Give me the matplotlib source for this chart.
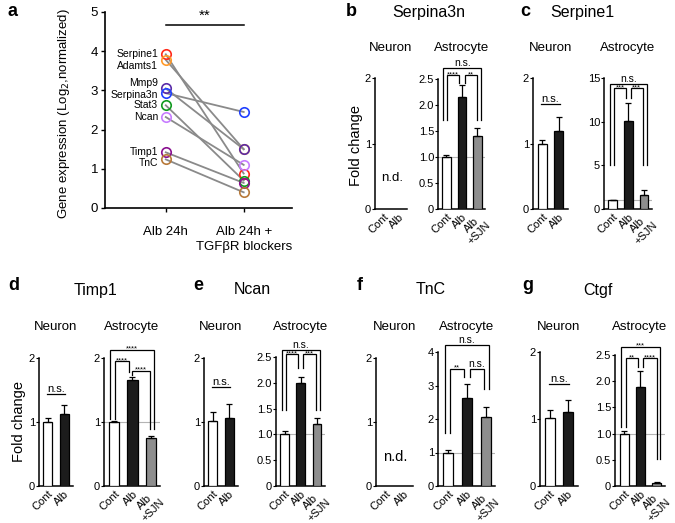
import numpy as np
import matplotlib
matplotlib.use('Agg')
import matplotlib.pyplot as plt

plt.rcParams['font.family'] = ['Liberation Sans', 'DejaVu Sans']

W, H = 675, 523

# ---- panel a: Log2 gene expression, Alb 24h vs Alb 24h + blockers
genes = ['Serpine1', 'Adamts1', 'Mmp9', 'Serpina3n', 'Stat3', 'Ncan', 'Timp1', 'TnC']
alb_24h = [3.92, 3.78, 3.05, 2.93, 2.62, 2.32, 1.42, 1.24]
alb_blockers = [0.88, 1.50, 1.50, 2.45, 0.70, 1.10, 0.64, 0.40]
a_conditions = ['Alb 24h', 'Alb 24h +\nTGFβR blockers']
gene_colors = ['#ff2a1a', '#ff9a2a', '#5a2ca8', '#2040ff',
               '#129a20', '#c77dff', '#8a1090', '#b87a3a']

# ---- bar panels (fold change), mean and upper error
neuron_groups = ['Cont', 'Alb']
astro_groups = ['Cont', 'Alb', 'Alb\n+SJN']

serpina3n_astro = [1.00, 2.15, 1.40]
serpina3n_astro_err = [0.04, 0.23, 0.15]

serpine1_neuron = [1.00, 1.19]
serpine1_neuron_err = [0.05, 0.21]
serpine1_astro = [1.00, 10.05, 1.55]
serpine1_astro_err = [0.05, 2.10, 0.65]

timp1_neuron = [1.00, 1.12]
timp1_neuron_err = [0.06, 0.15]
timp1_astro = [1.00, 1.65, 0.75]
timp1_astro_err = [0.01, 0.05, 0.03]

ncan_neuron = [1.02, 1.07]
ncan_neuron_err = [0.13, 0.21]
ncan_astro = [1.00, 2.00, 1.20]
ncan_astro_err = [0.06, 0.12, 0.11]

tnc_astro = [1.00, 2.62, 2.05]
tnc_astro_err = [0.07, 0.43, 0.30]

ctgf_neuron = [1.01, 1.10]
ctgf_neuron_err = [0.12, 0.18]
ctgf_astro = [1.00, 1.89, 0.06]
ctgf_astro_err = [0.05, 0.30, 0.02]

BAR_COLORS = ['white', '#1c1c1c', '#8e8e8e']


def px_axes(fig, x0, x1, y0, y1):
    return fig.add_axes([x0 / W, 1 - y1 / H, (x1 - x0) / W, (y1 - y0) / H])


def ftext(fig, x, y, s, **kw):
    return fig.text(x / W, 1 - y / H, s, **kw)


def bracket(ax, x1, x2, y, y1, y2, label):
    ax.plot([x1, x1, x2, x2], [y1, y, y, y2], color='black', lw=0.9,
            clip_on=False, solid_joinstyle='miter')
    if label == 'n.s.':
        ax.text((x1 + x2) / 2, y, label, ha='center', va='bottom',
                fontsize=7.5, clip_on=False)
    else:
        # stars sit just above the line
        ax.annotate(label, ((x1 + x2) / 2, y), xytext=(0, -2.2),
                    textcoords='offset points', ha='center', va='bottom',
                    fontsize=5.5, annotation_clip=False)


def style_axes(ax):
    for s in ['top', 'right']:
        ax.spines[s].set_visible(False)
    for s in ['left', 'bottom']:
        ax.spines[s].set_linewidth(1.1)
    ax.tick_params(axis='y', length=2, width=0.8, labelsize=8, pad=0.8)
    ax.tick_params(axis='x', length=0, labelsize=8, pad=2)


def bar_panel(ax, groups, vals, errs, ymax, yticks, ylabels, astro=False):
    x = np.arange(len(groups))
    if astro:
        ax.set_xlim(-0.55, 2.5)
        ax.axhline(1, color='#b4b4b4', lw=0.8, zorder=1)
    else:
        ax.set_xlim(-0.55, 1.55)
    if vals is not None:
        ax.bar(x, vals, width=0.55, color=BAR_COLORS[:len(groups)],
               edgecolor='black', linewidth=0.9, zorder=3)
        ax.errorbar(x, vals, yerr=[np.zeros(len(vals)), errs], fmt='none',
                    ecolor='black', elinewidth=0.9, capsize=2.5,
                    capthick=0.9, zorder=4)
    ax.set_ylim(0, ymax)
    ax.set_yticks(yticks)
    ax.set_yticklabels(ylabels)
    ax.set_xticks(x)
    ax.set_xticklabels(groups, rotation=45, ha='right', va='top',
                       rotation_mode='anchor', multialignment='center')
    style_axes(ax)


def neuron_ns(ax, y):
    ax.plot([-0.05, 1.05], [y, y], color='black', lw=0.9, clip_on=False)
    ax.text(0.5, y, 'n.s.', ha='center', va='bottom', fontsize=8)


fig = plt.figure(figsize=(W / 100, H / 100), dpi=100)

# ------------------------------------------------------------ panel a
ax = px_axes(fig, 105, 292, 12, 208)
for v0, v1 in zip(alb_24h, alb_blockers):
    ax.plot([0, 1], [v0, v1], color='#8a8a8a', lw=1.3, zorder=2)
for v0, v1, c in zip(alb_24h, alb_blockers, gene_colors):
    ax.plot([0, 1], [v0, v1], ls='none', marker='o', ms=6.8, mfc='none',
            mec=c, mew=1.2, zorder=3, clip_on=False)
label_nudge = [0.0, -0.17, 0.14, -0.05, 0.0, 0.0, 0.0, -0.09]
for g, v0, dy in zip(genes, alb_24h, label_nudge):
    ax.text(-0.1, v0 + dy, g, ha='right', va='center', fontsize=7.5)
ax.plot([0, 1], [4.67, 4.67], color='black', lw=1.1, clip_on=False)
ax.text(0.5, 4.72, '**', ha='center', va='bottom', fontsize=11)
ax.set_xlim(-0.78, 1.62)
ax.set_ylim(0, 5)
ax.set_yticks(range(6))
ax.set_xticks([0, 1])
ax.set_xticklabels(a_conditions, fontsize=9.5, linespacing=1.3)
for s in ['top', 'right']:
    ax.spines[s].set_visible(False)
for s in ['left', 'bottom']:
    ax.spines[s].set_linewidth(1.2)
ax.tick_params(axis='y', length=3, width=1, labelsize=9.5, pad=2)
ax.tick_params(axis='x', length=3, width=1, pad=10)
ftext(fig, 64, 114, 'Gene expression (Log$_2$,normalized)', rotation=90,
      ha='center', va='center', fontsize=9.5)

# ------------------------------------------------------------ panel b
ax = px_axes(fig, 375, 407, 78, 209)
bar_panel(ax, neuron_groups, None, None, 2, [0, 1, 2], ['0', '1', '2'])
ax.text(0.55, 0.47, 'n.d.', ha='center', va='center', fontsize=9.5)
ax_bn = ax

ax = px_axes(fig, 438, 485, 79, 209)
bar_panel(ax, astro_groups, serpina3n_astro, serpina3n_astro_err, 2.5,
          [0, 0.5, 1, 1.5, 2, 2.5], ['0', '0.5', '1.0', '1.5', '2.0', '2.5'],
          astro=True)
bracket(ax, -0.2, 2.25, 2.71, 1.72, 1.72, 'n.s.')
bracket(ax, 0.05, 0.8, 2.58, 1.72, 2.42, '****')
bracket(ax, 1.2, 2.0, 2.58, 2.42, 1.72, '**')
ax_ba = ax

# ------------------------------------------------------------ panel c
ax = px_axes(fig, 533, 568, 78, 209)
bar_panel(ax, neuron_groups, serpine1_neuron, serpine1_neuron_err, 2,
          [0, 1, 2], ['0', '1', '2'])
neuron_ns(ax, 1.6)
ax_cn = ax

ax = px_axes(fig, 604, 652, 78, 209)
bar_panel(ax, astro_groups, serpine1_astro, serpine1_astro_err, 15,
          [0, 5, 10, 15], ['0', '5', '10', '15'], astro=True)
bracket(ax, -0.2, 2.2, 14.3, 5.0, 5.0, 'n.s.')
bracket(ax, 0.1, 0.85, 13.85, 5.0, 12.7, '***')
bracket(ax, 1.15, 1.9, 13.85, 12.7, 5.0, '***')
ax_ca = ax

# ------------------------------------------------------------ panel d
ax = px_axes(fig, 39, 73, 358, 486)
bar_panel(ax, neuron_groups, timp1_neuron, timp1_neuron_err, 2,
          [0, 1, 2], ['0', '1', '2'])
neuron_ns(ax, 1.43)
ax_dn = ax

ax = px_axes(fig, 104, 160, 358, 486)
bar_panel(ax, astro_groups, timp1_astro, timp1_astro_err, 2,
          [0, 1, 2], ['0', '1', '2'], astro=True)
bracket(ax, -0.25, 2.2, 2.13, 1.05, 0.89, '****')
bracket(ax, 0.05, 0.83, 1.95, 1.05, 1.78, '****')
bracket(ax, 1.0, 1.95, 1.80, 1.74, 0.89, '****')
ax_da = ax

# ------------------------------------------------------------ panel e
ax = px_axes(fig, 204, 238, 358, 486)
bar_panel(ax, neuron_groups, ncan_neuron, ncan_neuron_err, 2,
          [0, 1, 2], ['0', '1', '2'])
neuron_ns(ax, 1.55)
ax_en = ax

ax = px_axes(fig, 276, 325, 357, 486)
bar_panel(ax, astro_groups, ncan_astro, ncan_astro_err, 2.5,
          [0, 0.5, 1, 1.5, 2, 2.5], ['0', '0.5', '1.0', '1.5', '2.0', '2.5'],
          astro=True)
bracket(ax, -0.2, 2.2, 2.63, 1.48, 1.48, 'n.s.')
bracket(ax, 0.05, 0.85, 2.55, 1.48, 2.29, '****')
bracket(ax, 1.15, 1.95, 2.55, 2.29, 1.48, '***')
ax_ea = ax

# ------------------------------------------------------------ panel f
ax = px_axes(fig, 376, 413, 358, 486)
bar_panel(ax, neuron_groups, None, None, 2, [0, 1, 2], ['0', '1', '2'])
ax.text(0.55, 0.45, 'n.d.', ha='center', va='center', fontsize=10.5)
ax_fn = ax

ax = px_axes(fig, 438, 495, 352, 486)
bar_panel(ax, astro_groups, tnc_astro, tnc_astro_err, 4,
          [0, 1, 2, 3, 4], ['0', '1', '2', '3', '4'], astro=True)
bracket(ax, -0.2, 2.2, 4.2, 1.57, 2.9, 'n.s.')
bracket(ax, 0.1, 0.85, 3.5, 1.57, 3.25, '**')
bracket(ax, 1.15, 1.9, 3.5, 3.25, 2.9, 'n.s.')
ax_fa = ax

# ------------------------------------------------------------ panel g
ax = px_axes(fig, 540, 578, 352, 486)
bar_panel(ax, neuron_groups, ctgf_neuron, ctgf_neuron_err, 2,
          [0, 1, 2], ['0', '1', '2'])
neuron_ns(ax, 1.52)
ax_gn = ax

ax = px_axes(fig, 615, 665, 355, 486)
bar_panel(ax, astro_groups, ctgf_astro, ctgf_astro_err, 2.5,
          [0, 0.5, 1, 1.5, 2, 2.5], ['0', '0.5', '1.0', '1.5', '2.0', '2.5'],
          astro=True)
bracket(ax, -0.2, 2.2, 2.66, 1.12, 0.51, '***')
bracket(ax, 0.1, 0.85, 2.44, 1.12, 2.28, '**')
bracket(ax, 1.15, 2.0, 2.44, 2.28, 0.51, '****')
ax_ga = ax

# ------------------------------------------------------------ labels
for ax_n, ax_a, y in [(ax_bn, ax_ba, 48), (ax_cn, ax_ca, 48),
                      (ax_dn, ax_da, 327), (ax_en, ax_ea, 327),
                      (ax_fn, ax_fa, 327), (ax_gn, ax_ga, 327)]:
    for a, name in [(ax_n, 'Neuron'), (ax_a, 'Astrocyte')]:
        bb = a.get_position()
        ftext(fig, (bb.x0 + bb.width / 2) * W, y, name, ha='center',
              va='center', fontsize=9.5)

for letter, x, y in [('a', 8, 12), ('b', 346, 12), ('c', 520, 12),
                     ('d', 8, 285), ('e', 193, 285), ('f', 357, 285),
                     ('g', 522, 285)]:
    ftext(fig, x, y, letter, ha='left', va='center', fontsize=13,
          fontweight='bold')

for title, x, y in [('Serpina3n', 429, 13), ('Serpine1', 582, 13),
                    ('Timp1', 96, 290), ('Ncan', 252, 290),
                    ('TnC', 431, 290), ('Ctgf', 598, 290)]:
    ftext(fig, x, y, title, ha='center', va='center', fontsize=11.5)

ftext(fig, 356, 145, 'Fold change', rotation=90, ha='center', va='center',
      fontsize=10.5)
ftext(fig, 19, 421, 'Fold change', rotation=90, ha='center', va='center',
      fontsize=10.5)

fig.savefig('out.png', dpi=100)
